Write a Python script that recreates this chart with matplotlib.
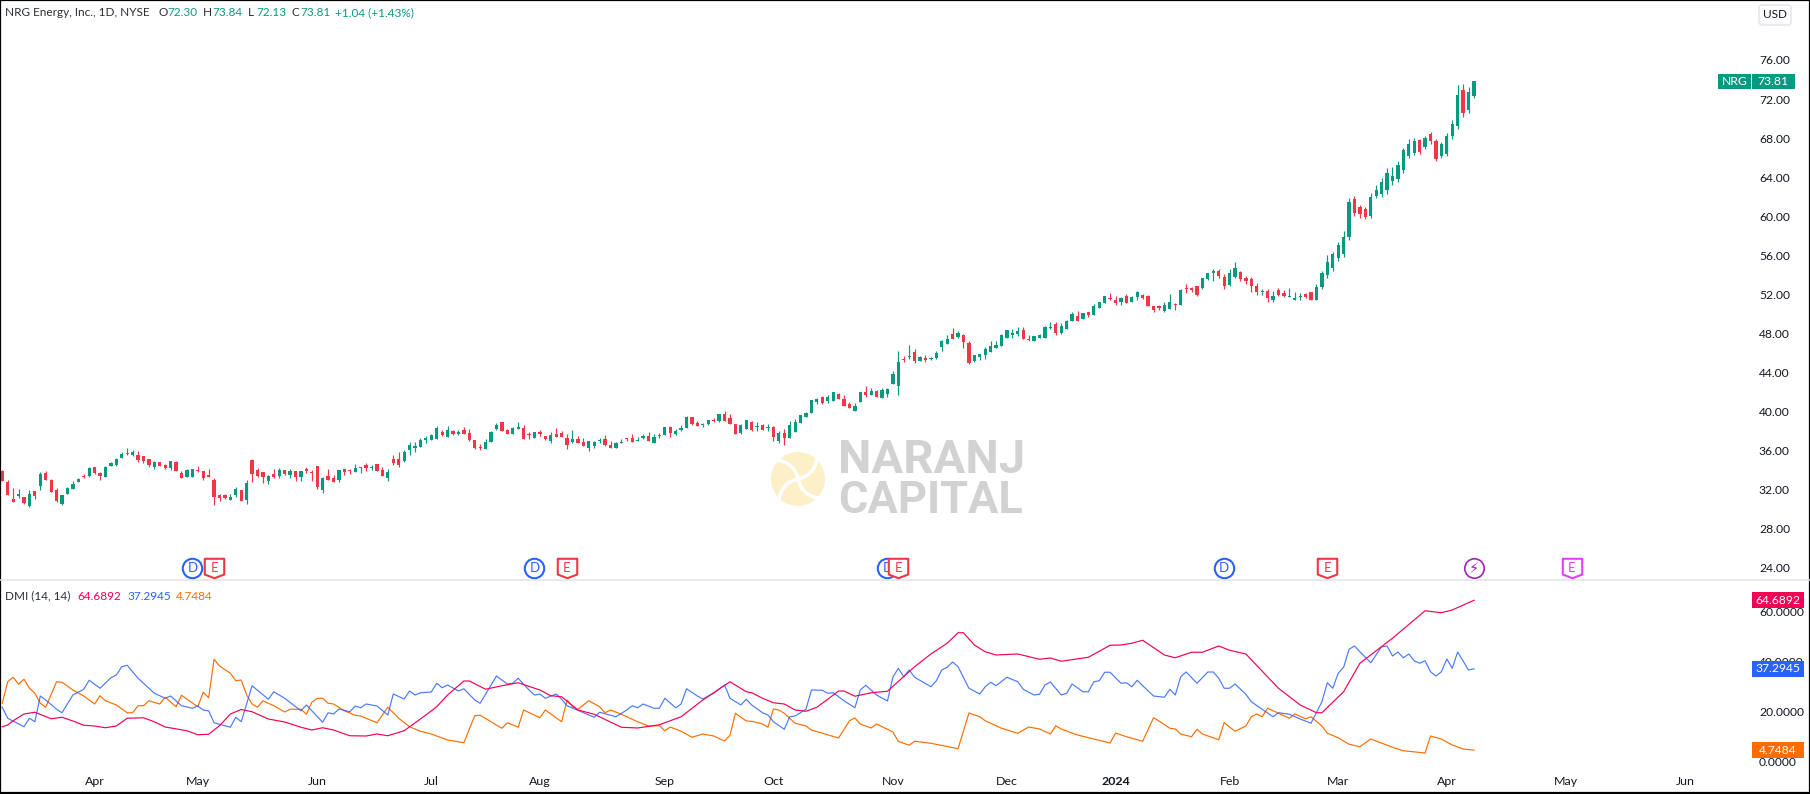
import numpy as np
import matplotlib
matplotlib.use("Agg")
import matplotlib.pyplot as plt
from matplotlib.patches import Rectangle, Circle, FancyBboxPatch, PathPatch
from matplotlib.path import Path

plt.rcParams["font.family"] = ["Lato", "DejaVu Sans"]

opens = [33.94,32.81,31.07,31.38,31.27,30.35,31.89,32.40,33.73,33.01,
31.99,30.56,31.58,32.09,32.81,33.42,33.42,34.35,33.73,33.32,
34.45,34.55,35.27,35.74,35.57,35.57,35.47,35.16,34.35,34.86,
34.55,34.24,34.86,33.73,33.32,33.32,34.04,33.94,33.53,33.01,
31.48,31.48,30.97,31.48,31.99,30.97,35.06,34.04,33.83,32.91,
33.63,33.42,34.04,33.53,33.94,33.32,34.14,33.83,34.45,31.99,
33.42,33.22,33.01,34.14,34.04,33.83,34.24,34.55,34.28,34.65,
34.04,33.22,35.16,35.16,34.96,36.08,36.29,36.39,37.11,37.11,
37.21,37.93,37.42,38.02,37.71,38.12,37.82,37.10,36.38,36.18,
36.90,38.23,38.94,38.12,37.71,38.23,38.33,37.71,37.31,37.92,
37.51,37.00,37.71,37.82,37.31,36.90,37.20,36.90,36.28,36.49,
37.00,37.20,36.59,36.28,36.83,37.31,37.31,37.03,37.31,37.51,
36.79,37.61,37.61,38.43,37.71,38.12,38.33,39.45,38.84,38.64,
38.74,39.15,39.04,39.76,39.35,38.74,37.82,38.23,38.94,38.46,
38.64,38.36,38.43,37.00,37.82,37.31,37.92,38.84,39.45,39.86,
40.99,41.50,41.09,41.09,41.81,41.30,40.79,40.07,40.99,42.01,
41.71,42.12,41.40,41.81,42.83,42.63,45.40,45.57,46.11,45.20,
45.50,45.43,45.50,46.63,46.93,47.96,47.65,47.85,47.04,45.20,
45.60,45.81,46.11,46.52,46.73,47.55,47.85,47.96,48.37,47.45,
47.24,47.55,47.55,48.57,48.98,48.06,48.47,49.29,49.80,49.49,
50.21,49.90,50.62,51.13,51.64,51.44,51.23,51.85,51.23,51.74,
51.95,51.85,50.82,50.82,50.31,50.52,51.03,50.92,52.67,52.67,
52.87,52.67,53.59,54.24,54.41,53.79,52.97,53.79,54.30,53.69,
53.59,52.87,52.26,52.36,51.44,52.46,52.15,51.78,51.44,51.74,
52.05,52.26,51.44,52.77,54.00,54.70,55.70,56.10,57.90,61.80,
60.90,60.70,60.00,62.10,62.30,62.70,63.60,63.80,64.70,66.20,
66.50,67.80,67.10,68.40,67.70,66.20,66.40,68.20,69.20,72.90,
70.90,72.30]
highs = [34.04,33.01,32.20,32.09,31.27,31.99,31.89,33.83,33.94,33.12,
32.20,31.48,32.30,32.91,33.22,33.63,34.35,34.35,33.83,34.45,
34.86,35.27,35.88,36.29,36.08,35.98,35.47,35.16,34.96,34.86,
34.65,34.96,34.96,33.94,34.14,34.14,34.45,33.94,34.14,33.22,
31.58,31.58,31.58,32.30,31.99,33.01,35.16,34.24,33.83,33.53,
34.14,34.24,34.04,34.14,33.94,33.94,34.35,34.04,34.45,33.32,
34.14,33.53,34.04,34.14,34.14,34.65,34.31,34.75,34.55,34.65,
34.35,34.14,35.57,35.88,36.08,36.90,36.90,37.31,37.52,37.72,
38.54,38.13,38.54,38.12,38.12,38.43,38.23,37.10,36.69,37.20,
38.02,38.84,38.94,38.23,38.43,38.94,38.64,37.92,37.92,38.12,
37.51,37.92,38.33,38.02,37.71,38.12,37.51,37.31,37.00,37.00,
37.31,37.61,37.00,36.90,37.20,37.31,37.71,37.41,37.71,37.92,
37.71,37.82,38.43,38.53,38.23,38.64,39.56,39.45,39.04,38.84,
39.15,39.35,39.76,40.07,39.76,38.74,38.74,39.15,39.04,38.94,
38.74,38.74,38.53,38.02,38.23,39.04,39.25,39.66,39.97,41.19,
41.40,41.60,41.71,42.01,41.91,41.71,40.99,40.89,42.01,42.63,
42.42,42.22,42.42,42.42,44.16,46.21,45.71,46.83,46.42,45.71,
45.81,45.60,46.22,47.34,47.85,48.57,48.26,47.96,47.24,45.81,
45.91,46.63,47.24,47.24,47.96,48.37,48.47,48.67,48.67,47.85,
47.75,47.96,48.78,49.19,49.19,49.08,49.39,50.21,50.31,50.11,
50.21,51.03,51.23,51.85,52.15,51.85,51.74,52.05,51.85,52.36,
52.05,51.95,50.82,50.92,51.23,52.05,51.13,52.56,53.08,52.77,
52.87,53.69,54.20,54.61,54.61,54.10,54.61,55.33,54.41,53.89,
53.79,53.18,52.56,52.56,52.36,52.67,52.46,52.67,52.26,52.15,
52.15,52.26,53.08,54.40,56.00,56.30,57.40,58.50,61.90,62.10,
61.20,61.00,62.40,63.20,63.90,64.90,65.00,65.70,67.00,67.90,
68.00,67.90,68.20,68.60,67.90,67.60,68.50,69.90,73.40,73.50,
73.20,73.84]
lows = [32.95,31.48,30.76,31.17,30.56,30.25,31.07,31.99,33.01,31.79,
30.76,30.46,31.58,32.09,32.81,33.22,33.32,33.63,33.01,33.32,
34.45,34.45,35.27,35.57,35.47,34.86,34.75,34.35,34.14,34.45,
34.14,34.04,33.94,33.22,33.32,33.32,33.83,33.01,33.32,30.46,
30.86,31.07,30.97,31.27,30.86,30.56,32.81,33.32,32.71,32.60,
33.22,33.22,33.53,33.22,32.91,32.91,33.73,32.91,32.09,31.68,
33.01,32.81,32.81,33.53,33.63,33.83,33.73,33.94,34.04,33.94,
33.42,32.91,34.55,34.35,34.86,35.57,35.88,36.39,36.80,37.11,
37.21,37.52,37.42,37.61,37.61,37.71,37.00,36.18,36.08,36.18,
36.90,38.12,38.02,37.71,37.71,38.23,37.20,37.20,37.31,37.51,
37.10,36.79,37.41,37.41,36.18,36.79,36.79,36.49,35.97,36.28,
36.79,36.49,36.28,36.28,36.79,37.00,36.90,37.00,37.20,37.00,
36.79,37.31,37.61,37.41,37.61,38.02,38.33,38.64,38.53,38.43,
38.64,38.94,38.94,39.04,38.74,37.71,37.71,38.23,38.02,38.02,
38.12,38.02,37.00,36.79,36.59,37.31,37.92,38.84,39.45,39.86,
40.79,40.79,40.89,41.09,41.30,40.58,40.38,40.07,40.99,41.50,
41.71,41.50,41.40,41.50,42.83,41.71,45.10,45.40,45.00,45.15,
45.10,45.29,45.40,46.22,46.93,47.45,47.55,46.52,44.90,45.10,
45.29,45.40,46.11,46.52,46.73,47.55,47.55,47.75,47.45,47.24,
47.24,47.55,47.55,48.47,47.85,47.96,48.47,49.29,49.29,49.49,
49.70,49.90,50.62,51.13,51.44,50.92,50.92,51.13,51.23,51.44,
51.54,50.82,50.21,50.41,50.21,50.52,50.41,50.92,52.15,52.26,
51.85,52.56,53.49,53.38,53.69,52.56,52.87,53.69,53.38,53.08,
52.26,51.95,51.95,51.23,51.23,51.85,51.74,51.74,51.44,51.44,
51.64,51.44,51.44,52.60,53.70,54.40,55.40,55.80,57.60,60.00,
59.80,59.70,59.80,61.90,62.00,62.30,63.20,63.50,64.40,66.00,
66.30,66.40,66.90,67.40,65.70,66.00,66.20,67.90,68.90,70.20,
70.60,72.13]
closes = [32.95,31.48,30.76,31.58,30.66,31.58,31.38,33.63,33.01,31.79,
30.86,31.48,32.20,32.60,33.12,33.32,34.24,33.73,33.42,34.35,
34.75,35.16,35.68,35.68,35.88,35.06,34.96,34.55,34.86,34.45,
34.24,34.96,33.94,33.22,34.04,34.14,33.94,33.22,33.32,31.27,
31.17,31.17,31.27,32.09,30.86,32.71,33.63,33.42,33.32,33.42,
33.32,34.04,33.63,33.94,33.32,33.94,33.94,33.77,32.30,33.22,
33.01,32.81,34.04,33.83,33.97,34.24,34.31,34.24,34.35,33.94,
33.42,33.83,34.75,34.55,35.88,36.60,36.49,37.11,37.31,37.62,
38.34,37.62,38.13,37.71,37.92,37.71,37.10,36.28,36.31,36.90,
37.92,38.64,38.02,37.71,38.33,38.43,37.20,37.65,37.92,37.71,
37.20,37.61,37.41,37.41,36.59,37.20,36.79,36.49,37.00,36.90,
37.10,36.59,36.28,36.79,36.90,37.20,36.90,37.10,37.51,37.00,
37.41,37.51,38.43,37.82,38.02,38.33,39.45,38.74,38.53,38.74,
39.15,39.04,39.76,39.04,38.74,37.71,38.64,39.15,38.12,38.53,
38.12,38.43,37.41,37.82,37.31,38.64,38.94,39.66,39.86,41.19,
41.30,40.89,41.50,42.01,41.30,40.58,40.38,40.58,42.01,41.71,
42.12,41.50,42.22,42.32,43.86,45.08,45.25,45.71,45.15,45.60,
45.25,45.50,46.01,47.24,47.45,47.45,48.06,47.14,45.00,45.81,
45.91,46.42,46.73,46.83,47.85,48.37,48.06,48.26,47.45,47.34,
47.75,47.85,48.67,48.67,48.06,48.78,49.29,50.00,49.29,50.11,
49.90,50.82,51.23,51.85,51.54,51.13,51.64,51.13,51.74,52.26,
51.64,50.82,50.41,50.62,50.92,51.23,50.96,52.46,52.56,52.46,
51.95,53.69,54.20,54.41,53.89,52.87,54.20,54.71,53.59,53.38,
52.87,52.26,52.36,51.64,51.85,51.95,51.85,51.85,51.64,51.85,
51.74,51.44,52.77,54.20,55.30,56.10,57.10,57.90,61.50,60.30,
60.20,59.90,62.00,62.70,63.50,64.40,64.10,65.20,66.80,67.40,
67.70,66.60,68.00,67.70,65.90,67.40,68.20,69.40,72.40,70.60,
72.77,73.81]

# DMI vertices, bar number then value
adx_bars = [0,1,2,4,6,9,11,13,15,17,19,21,23,26,28,30,34,36,38,40,42,44,46,49,52,55,57,59,61,64,67,69,71,74,78,80,82,85,86,89,92,95,99,101,103,106,109,114,117,121,125,129,134,137,
138,140,142,144,146,148,150,152,154,155,157,160,163,168,171,174,176,177,179,181,183,187,191,193,195,200,204,206,208,210,214,216,219,221,224,226,229,235,239,242,243,247,250,256,262,265,267,271]
adx_vals = [14.1,14.8,16.5,19.2,19.9,17.3,17.9,16.4,14.7,14.4,13.7,14.4,17.5,17.7,16.1,14.0,12.5,10.9,11.1,14.5,19.2,21.0,20.1,17.2,16.0,13.9,12.8,13.7,12.8,10.5,10.4,11.2,10.5,12.5,18.8,22.1,26.8,32.4,32.4,29.1,30.5,31.7,28.8,26.5,26.1,20.8,19.1,13.9,13.6,14.9,18.1,24.8,32.1,28.1,
27.7,25.5,23.7,23.2,20.8,20.3,21.9,25.1,28.4,28.4,26.3,27.7,28.3,38.1,43.2,47.5,51.7,51.7,46.8,44.1,42.8,43.2,41.1,41.6,40.3,41.9,46.7,46.8,47.5,48.7,42.8,41.7,43.9,43.9,46.4,44.7,43.2,29.5,22.8,19.7,19.7,28.1,39.5,49.5,60.5,59.7,60.8,64.69]
plus_bars = [0,1,4,5,6,7,8,10,11,13,15,16,18,20,21,22,23,25,28,30,31,33,35,36,37,38,39,42,43,44,46,49,50,52,55,56,59,60,61,62,64,65,66,67,69,71,72,74,75,76,77,79,80,81,82,84,85,87,88,91,93,94,95,97,98,99,100,102,103,104,109,110,113,115,116,117,118,120,121,122,124,125,126,128,129,131,133,134,136,137,
138,140,141,142,144,145,146,148,149,151,152,153,155,157,158,159,161,163,164,165,166,167,168,171,172,173,174,175,176,178,180,181,182,183,185,187,188,190,191,192,193,195,196,197,199,200,201,202,203,204,206,207,208,209,210,212,214,215,216,217,218,220,222,223,224,225,226,227,229,230,232,234,235,237,239,241,243,244,245,246,247,248,249,250,252,254,255,256,257,258,259,260,261,262,263,264,265,266,267,268,270,271]
plus_vals = [21.9,17.5,14.1,17.5,16.1,26.4,24.8,21.1,19.7,26.8,29.1,32.7,29.5,33.7,34.8,38.1,38.7,33.5,27.5,25.5,26.4,22.5,21.5,22.4,20.8,20.5,15.7,13.9,17.9,16.1,30.5,25.1,28.1,25.5,20.5,22.8,15.9,19.7,19.2,21.2,20.1,22.4,21.7,23.2,22.4,18.8,27.2,25.2,28.4,26.8,27.7,28.0,31.5,29.7,30.8,28.4,29.3,24.8,23.5,34.4,31.2,31.5,33.5,28.8,26.8,27.2,25.5,27.2,25.1,22.5,17.9,19.9,18.1,20.8,22.5,21.7,23.2,21.5,21.5,25.5,21.7,23.2,29.3,26.4,25.2,27.5,30.8,25.5,22.8,25.1,
22.8,19.7,18.8,16.1,13.1,18.1,18.4,21.1,28.8,28.7,27.5,27.7,24.5,21.7,28.8,30.7,26.8,24.4,33.9,37.5,34.1,36.8,33.9,30.1,32.5,36.8,37.9,40.0,38.1,29.5,27.2,30.1,31.9,30.5,33.9,32.1,29.1,26.8,27.1,30.8,32.0,26.8,27.5,31.2,28.1,28.1,32.1,32.5,35.9,35.9,31.5,31.7,30.1,32.7,30.5,26.4,25.9,29.1,26.8,34.1,36.0,31.5,36.0,36.0,33.5,29.5,29.5,31.2,27.1,24.1,21.1,18.1,19.7,19.1,17.2,15.5,24.1,31.7,29.5,35.5,37.9,45.1,46.4,44.1,39.7,46.1,46.4,42.4,44.0,41.7,43.2,40.5,39.5,40.5,36.1,34.4,36.1,41.2,37.5,44.0,36.8,37.29]
minus_bars = [0,1,2,3,4,5,6,7,8,10,11,13,15,17,18,19,21,23,24,25,26,27,29,30,32,33,36,37,38,39,40,42,43,44,45,46,47,48,50,52,53,55,56,57,58,59,60,61,63,65,66,69,71,73,75,77,79,82,85,87,88,92,93,95,96,99,100,103,104,105,106,108,110,111,112,114,117,119,121,122,123,125,127,129,131,133,134,135,137,
138,140,141,142,143,144,146,148,149,154,156,157,158,160,161,164,165,167,168,171,176,178,180,181,184,187,189,191,193,194,195,198,204,205,207,210,212,213,215,216,217,219,220,221,224,225,227,229,230,231,232,233,237,238,240,241,243,244,246,248,250,252,256,258,262,263,265,267,269,271]
minus_vals = [23.5,32.1,33.9,31.1,33.1,29.5,27.5,23.5,21.9,32.1,31.9,28.8,26.4,23.2,26.5,24.5,22.8,19.7,19.7,22.5,22.5,24.5,23.2,25.9,22.1,26.7,22.1,27.9,25.7,41.1,38.4,35.5,32.5,32.8,26.8,23.2,21.9,24.5,22.5,20.0,21.1,21.1,19.1,23.9,25.5,25.5,23.5,23.2,20.5,18.7,18.4,15.7,21.9,17.5,14.1,12.3,11.2,8.8,7.7,18.5,18.7,13.5,15.7,13.9,20.8,17.7,20.8,16.1,24.8,22.1,21.1,24.5,22.1,19.7,20.8,19.1,16.1,14.4,14.5,12.5,14.0,12.3,9.9,11.2,10.4,8.4,10.7,19.5,16.4,
16.3,15.2,13.9,21.2,20.8,19.5,15.5,14.4,12.8,9.6,16.5,17.6,15.2,13.6,15.2,12.0,8.3,6.7,8.3,7.5,5.3,19.6,18.1,16.5,13.5,11.5,14.0,13.2,11.2,14.5,13.2,10.8,7.6,11.6,10.1,8.3,17.7,16.4,13.5,13.2,11.2,10.1,13.1,11.2,8.9,15.7,12.3,14.4,18.1,19.2,18.1,21.5,17.5,19.2,17.3,18.1,14.4,11.5,9.7,7.1,6.1,9.2,5.9,4.5,3.6,10.4,9.2,6.8,5.2,4.75]

price_ticks = [24, 28, 32, 36, 40, 44, 48, 52, 56, 60, 64, 68, 72, 76]
dmi_ticks = [0, 20, 40, 60]
month_bars = [17, 36, 58, 79, 99, 122, 142, 164, 185, 205, 226, 246, 266, 288, 310]
month_labels = ["Apr", "May", "Jun", "Jul", "Aug", "Sep", "Oct", "Nov", "Dec", "2024", "Feb", "Mar", "Apr", "May", "Jun"]
dividend_bars = [35, 98, 163, 225]
earnings_bars = [39, 104, 165, 244]
future_earnings_bars = [289]
split_bars = [271]
adx_last, plus_last, minus_last = 64.6892, 37.2945, 4.7484
last_close = 73.81

GREEN = "#089981"
RED = "#F23645"
PINK = "#F50057"
BLUE = "#2962FF"
ORANGE = "#FF6D00"
TEXT = "#131722"
W, H = 1810, 794

fig = plt.figure(figsize=(W / 100, H / 100), dpi=100, facecolor="white")
pane_w = 1752 / W
ax = fig.add_axes([0, (H - 580) / H, pane_w, 580 / H])
ax2 = fig.add_axes([0, 0, pane_w, (H - 581) / H])
over = fig.add_axes([0, 0, 1, 1], facecolor="none", zorder=5)
over.set_xlim(0, W)
over.set_ylim(H, 0)
over.axis("off")

xlim = (-0.42, 322.2)
x = np.arange(len(opens))
opens, highs, lows, closes = map(np.array, (opens, highs, lows, closes))
up = closes >= opens
colors = np.where(up, GREEN, RED)

ax.vlines(x, lows, highs, colors=colors, linewidth=0.85, zorder=2)
ax.bar(x, np.abs(closes - opens), bottom=np.minimum(opens, closes), width=0.6, color=colors, linewidth=0, zorder=3)
ax.set_xlim(xlim)
ax.set_ylim(22.77, 82.14)
ax.set_xticks([])
ax.set_yticks(price_ticks)
ax.set_yticklabels([f"{t:.2f}" for t in price_ticks])
ax.yaxis.tick_right()
ax.tick_params(axis="y", length=0, pad=5, labelsize=8.7, labelcolor=TEXT)

ax2.plot(minus_bars, minus_vals, color=ORANGE, lw=0.85, zorder=2)
ax2.plot(plus_bars, plus_vals, color=BLUE, lw=0.85, zorder=3, alpha=0.85)
ax2.plot(adx_bars, adx_vals, color=PINK, lw=0.85, zorder=4)
ax2.set_xlim(xlim)
ax2.set_ylim(-12.8, 72.4)
ax2.set_yticks(dmi_ticks)
ax2.set_yticklabels([f"{t:.4f}" for t in dmi_ticks])
ax2.yaxis.tick_right()
ax2.tick_params(axis="y", length=0, pad=5, labelsize=8.7, labelcolor=TEXT)
ax2.set_xticks(month_bars)
ax2.set_xticklabels(month_labels)
ax2.tick_params(axis="x", length=0, pad=-13, labelsize=8.9, labelcolor=TEXT)
ax2.get_xticklabels()[9].set_fontweight("bold")

for a in (ax, ax2):
    for s in a.spines.values():
        s.set_visible(False)
    a.patch.set_alpha(0)

# event badges along the bottom of the price pane
badge_y = 24.0
shield = Path([(-1, 1), (1, 1), (1, -0.62), (0, -1), (-1, -0.62), (-1, 1)], closed=True)
ax.plot(dividend_bars, [badge_y] * 4, "o", ms=14, mfc="white", mec=BLUE, mew=1.5, zorder=4, clip_on=False)
for b in dividend_bars:
    ax.text(b, badge_y, "D", color=BLUE, fontsize=9.5, ha="center", va="center", zorder=5)
ax.plot(earnings_bars, [badge_y] * 4, marker=shield, ls="none", ms=14, mfc="white", mec=RED, mew=1.5, zorder=6)
for b in earnings_bars:
    ax.text(b, badge_y, "E", color=RED, fontsize=9.5, ha="center", va="center", zorder=7)
ax.plot(future_earnings_bars, [badge_y], marker=shield, ls="none", ms=14, mfc="white", mec="#E040FB", mew=1.5, zorder=6)
ax.text(future_earnings_bars[0], badge_y, "E", color="#E040FB", fontsize=9.5, ha="center", va="center", zorder=7)
ax.plot(split_bars, [badge_y], "o", ms=14, mfc="white", mec="#9C27B0", mew=1.2, zorder=4)
ax.text(split_bars[0], badge_y, "\u26a1", color="#9C27B0", fontsize=10.5, ha="center", va="center", zorder=5,
        family=["DejaVu Sans"])

# value tags on the right axes
def axis_tag(a, value, text, color, h_val):
    a.add_patch(Rectangle((1, value - h_val), 52 / 1752, 2 * h_val, transform=a.get_yaxis_transform(),
                          facecolor=color, edgecolor="none", clip_on=False, zorder=20))
    a.text(1 + 26 / 1752, value, text, transform=a.get_yaxis_transform(), color="white", fontsize=8.7,
           ha="center", va="center", zorder=21, clip_on=False)

axis_tag(ax2, adx_last, f"{adx_last:.4f}", PINK, 3.2)
axis_tag(ax2, plus_last, f"{plus_last:.4f}", BLUE, 3.2)
axis_tag(ax2, minus_last, f"{minus_last:.4f}", ORANGE, 3.2)

ax.add_patch(Rectangle((1 - 34 / 1752, last_close - 0.8), 33 / 1752, 1.6, transform=ax.get_yaxis_transform(),
                       facecolor=GREEN, edgecolor="none", clip_on=False, zorder=20))
ax.add_patch(Rectangle((1, last_close - 0.8), 43 / 1752, 1.6, transform=ax.get_yaxis_transform(),
                       facecolor=GREEN, edgecolor="none", clip_on=False, zorder=20))
ax.text(1 - 17 / 1752, last_close, "NRG", transform=ax.get_yaxis_transform(), color="white", fontsize=8.7,
        ha="center", va="center", zorder=21)
ax.text(1 + 21 / 1752, last_close, f"{last_close:.2f}", transform=ax.get_yaxis_transform(), color="white",
        fontsize=8.7, ha="center", va="center", zorder=21, clip_on=False)

# header and legend
def label(px, py, s, color=TEXT, size=8.5, **kw):
    over.text(px, py, s, color=color, fontsize=size, ha="left", va="center", **kw)

label(5, 12.5, "NRG Energy, Inc., 1D, NYSE", "#2A2E39")
for px, s in [(158, "O"), (203, "H"), (248, "L"), (291, "C")]:
    label(px, 12.5, s, "#2A2E39")
for px, s in [(167, "72.30"), (212, "73.84"), (256, "72.13"), (300, "73.81"), (335, "+1.04 (+1.43%)")]:
    label(px, 12.5, s, GREEN)
label(5, 596, "DMI (14, 14)", "#2A2E39")
label(77, 596, f"{adx_last:.4f}", PINK)
label(127, 596, f"{plus_last:.4f}", BLUE)
label(176, 596, f"{minus_last:.4f}", ORANGE)

over.add_patch(FancyBboxPatch((1759, 5), 32, 20, boxstyle="round,pad=0,rounding_size=3",
                              facecolor="white", edgecolor="#E0E3EB", lw=1))
over.text(1775, 15, "USD", color=TEXT, fontsize=8.5, ha="center", va="center")

# watermark logo, a pale disc cut by four curved white strokes
logo_x, logo_y = 798, 479
over.add_patch(Circle((logo_x, logo_y), 27, facecolor="#FDF0C8", edgecolor="none", zorder=1))
for rot in np.deg2rad([0, 90, 180, 270]):
    c, s = np.cos(rot), np.sin(rot)
    pts = [(0, 0), (14, -3), (20, -14), (20, -30)]
    verts = [(logo_x + c * px - s * py, logo_y + s * px + c * py) for px, py in pts]
    over.add_patch(PathPatch(Path(verts, [Path.MOVETO, Path.CURVE4, Path.CURVE4, Path.CURVE4]),
                             facecolor="none", edgecolor="white", lw=2.6, zorder=2))
over.text(838, 460, "NARANJ", color="#D2D2D2", fontsize=34, fontweight="bold", family="Roboto", ha="left", va="center")
over.text(838, 501, "CAPITAL", color="#D2D2D2", fontsize=32.5, fontweight="bold", family="Roboto", ha="left", va="center")

# pane separator and frame
over.plot([0, W], [580, 580], color="#E0E3EB", lw=1.1)
over.add_patch(Rectangle((0, 0), W, H - 1.5, fill=False, edgecolor="black", lw=1.6, clip_on=False))

fig.savefig("out.png", dpi=100)
